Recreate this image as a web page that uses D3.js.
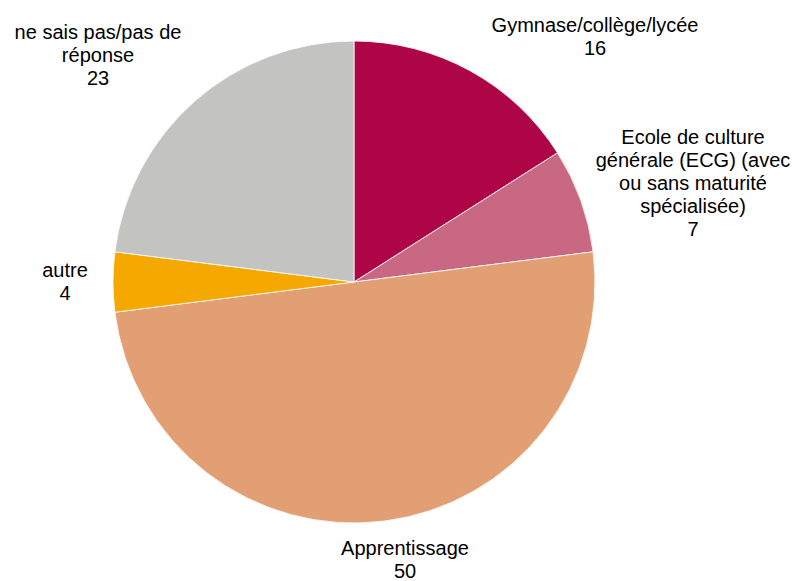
<!DOCTYPE html>
<html>
<head>
<meta charset="utf-8">
<script src="https://cdn.jsdelivr.net/npm/d3@7"></script>
<style>
  html, body { margin: 0; padding: 0; background: #fff; }
  svg { display: block; }
  text { font-family: "Liberation Sans", Arial, sans-serif; font-size: 20px; fill: #000; }
</style>
</head>
<body>
<svg id="chart" width="803" height="581"></svg>
<script>
// Categories and shares, clockwise from 12 o'clock
const categories = [
  "Gymnase/collège/lycée",
  "Ecole de culture générale (ECG) (avec ou sans maturité spécialisée)",
  "Apprentissage",
  "autre",
  "ne sais pas/pas de réponse"
];
const values = [16, 7, 50, 4, 23];
const colors = ["#AE0546", "#C96882", "#E29F73", "#F5A800", "#C3C3C1"];

// Label text broken into lines as displayed
const labelLines = [
  ["Gymnase/collège/lycée"],
  ["Ecole de culture", "générale (ECG) (avec", "ou sans maturité", "spécialisée)"],
  ["Apprentissage"],
  ["autre"],
  ["ne sais pas/pas de", "réponse"]
];

// Label anchors (centre of the first line), per slice
const labelLayout = [
  { x: 595, y: 25 },
  { x: 693, y: 137 },
  { x: 405, y: 548 },
  { x: 65,  y: 270 },
  { x: 98,  y: 32 }
];

const svg = d3.select("#chart");
const cx = 354, cy = 282, radius = 241;
const lineH = 23;

const data = categories.map((c, i) => ({
  name: c, value: values[i], color: colors[i], lines: labelLines[i], pos: labelLayout[i]
}));

const pie = d3.pie().value(d => d.value).sort(null).startAngle(0).endAngle(2 * Math.PI);
const arc = d3.arc().innerRadius(0).outerRadius(radius);

const g = svg.append("g").attr("transform", `translate(${cx},${cy})`);

g.selectAll("path.slice")
  .data(pie(data))
  .join("path")
  .attr("class", "slice")
  .attr("d", arc)
  .attr("fill", d => d.data.color)
  .attr("stroke", "#fff")
  .attr("stroke-width", 0.8);

// Data labels: category lines followed by the value
const labels = svg.selectAll("text.label")
  .data(data)
  .join("text")
  .attr("class", "label")
  .attr("text-anchor", "middle")
  .attr("transform", d => `translate(${d.pos.x},${d.pos.y})`);

labels.each(function(d) {
  const t = d3.select(this);
  const all = d.lines.concat([String(d.value)]);
  all.forEach((line, i) => {
    t.append("tspan")
      .attr("x", 0)
      .attr("y", i * lineH)
      .attr("dy", "0.35em")
      .text(line);
  });
});
</script>
</body>
</html>
